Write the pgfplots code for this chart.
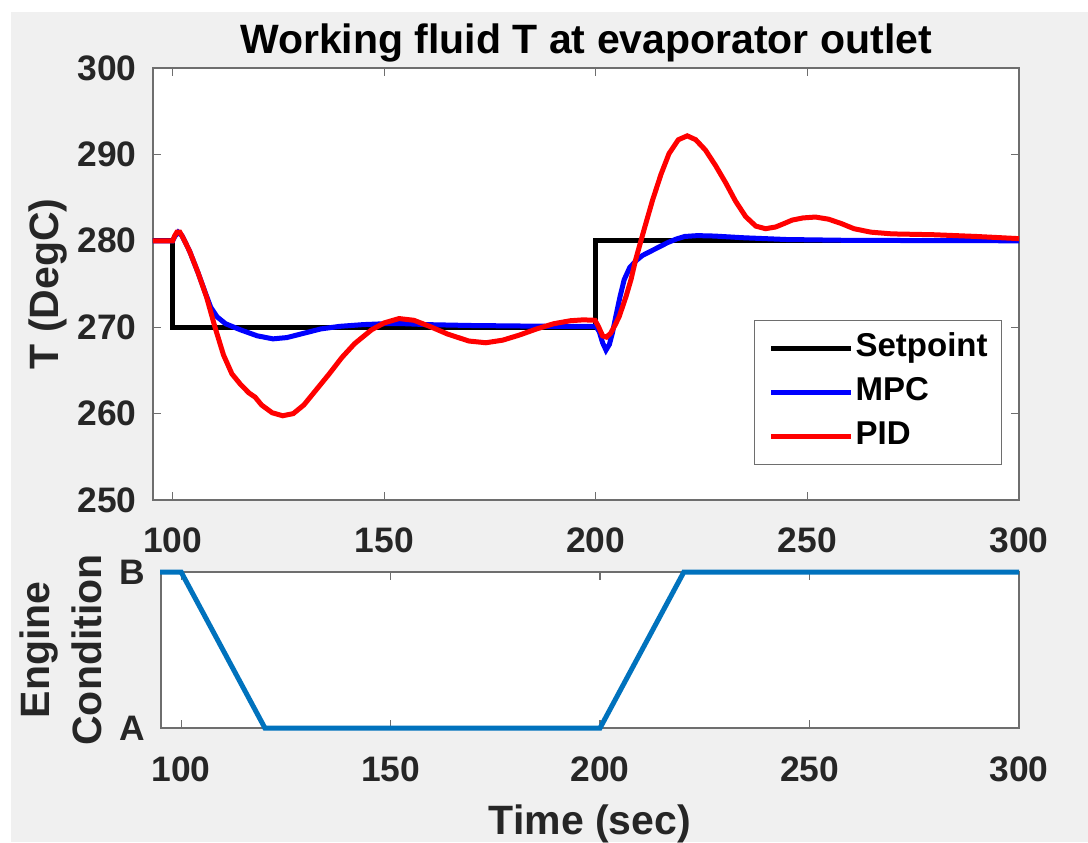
\documentclass[border=0pt]{standalone}
\usepackage{fontspec}
\setmainfont{Liberation Sans}
\usepackage{pgfplots}
\pgfplotsset{compat=1.18}
\definecolor{bg}{RGB}{240,240,240}
\definecolor{axgray}{RGB}{110,110,110}
\definecolor{txt}{RGB}{38,38,38}
\definecolor{mblue}{RGB}{0,114,189}
\newcommand{\tickfont}{\bfseries\fontsize{17.7}{20}\selectfont}
\newcommand{\labfont}{\bfseries\fontsize{20.5}{26}\selectfont}
\newcommand{\legfont}{\bfseries\fontsize{16.5}{19}\selectfont}

\pgfplotstableread{
x y
95 280
100 280
100 270
200 270
200 280
300 280
}\setpoint

\pgfplotstableread{
x y
95 280
100 280
100.5 280.5
101.3 281.0
102.2 280.6
103 279.8
104 278.8
106 276.3
108 273.6
109 272.3
110.5 271.2
112.5 270.4
116 269.7
120 269.0
123.7 268.65
127 268.8
131 269.3
135 269.8
139.5 270.1
145 270.3
150 270.4
155 270.4
160 270.3
170 270.2
180 270.15
190 270.1
200 270.1
200.8 269.5
201.6 268.2
202.4 267.35
203.2 268.0
203.9 269.3
204.7 271.2
205.7 273.5
206.7 275.5
208 276.9
209.5 277.7
211 278.3
213 278.8
215 279.3
217 279.8
219 280.2
221 280.5
224 280.6
228 280.55
235 280.35
245 280.15
260 280.05
300 280.0
}\mpc

\pgfplotstableread{
x y
95 280
100 280
100.5 280.6
101 281.0
101.7 281.0
102.5 280.3
104 278.8
106 276.3
108 273.5
110 270.0
112 266.8
114 264.6
116 263.4
118 262.4
119.5 261.9
121 261.0
123.5 260.1
126 259.75
128.5 260.0
131 261.0
134 262.8
137 264.6
140 266.5
143 268.1
147 269.7
150 270.5
153.5 271.0
157 270.8
160.7 270.1
165 269.2
170 268.4
174 268.2
178 268.5
182 269.1
186 269.8
190 270.4
194 270.75
197 270.85
199.8 270.8
200.6 270.1
201.6 269.0
202.5 268.85
203.5 269.3
204.5 270.2
205.5 271.2
207.1 273.5
208.3 275.5
209.4 277.8
211.4 281.3
213.4 284.7
215.4 287.7
217.3 290.1
219.5 291.7
221.6 292.15
223.6 291.7
225.9 290.5
228.3 288.7
230.7 286.7
233 284.6
235.4 282.8
237.8 281.7
240.1 281.4
242.5 281.6
244.5 282.0
246.4 282.4
249 282.65
251.9 282.75
255 282.5
258 282.0
261 281.4
265 281.0
270 280.8
280 280.7
290 280.5
300 280.25
}\pid

\pgfplotstableread{
x y
95 1
100 1
120 0
200 0
220 1
300 1
}\engine

\begin{document}
\begin{tikzpicture}
\path[use as bounding box] (0,0) rectangle (544pt,421pt);
\fill[white] (0,0) rectangle (544pt,421pt);
\fill[bg] (5.5pt,0pt) rectangle (544pt,415pt);

\pgfplotsset{mystyle/.style={
  scale only axis,
  axis background/.style={fill=white},
  axis line style={draw=axgray, line width=0.6pt},
  every tick/.style={draw=axgray, line width=0.6pt},
  major tick length=4pt,
  tick align=inside,
  tick pos=both,
  ticklabel style={font=\tickfont, text=txt},
  /pgf/number format/assume math mode=true,
  /pgf/number format/1000 sep={},
  xticklabel style={anchor=base, inner sep=0pt, yshift=-26.5pt},
  yticklabel style={anchor=east, inner sep=0pt, xshift=-8pt},
  label style={font=\labfont, text=txt},
}}

\begin{axis}[mystyle,
  at={(76.5pt,171pt)}, anchor=south west,
  width=433pt, height=216pt,
  xmin=95.35, xmax=300, ymin=250, ymax=300,
  xtick={100,150,200,250,300},
  ytick={250,260,270,280,290,300},
  title={Working fluid T at evaporator outlet},
  title style={at={(axis description cs:0.5,1)}, anchor=base, yshift=1.2pt, font=\labfont, text=black},
  ylabel={T (DegC)},
  ylabel style={at={(axis description cs:-0.1212,0.5)}, anchor=center},
  legend style={at={(axis description cs:0.694,0.4167)}, anchor=north west,
    draw=axgray, line width=0.6pt, fill=white, font=\legfont, text=black,
    inner xsep=7pt, inner ysep=6pt, row sep=6pt, column sep=1pt,
    nodes={inner sep=0pt, text height=12pt, text depth=4pt},
    cells={anchor=west}},
  legend image code/.code={\draw[#1] (0pt,0pt) -- (40pt,0pt);},
]
\addplot[black, line width=2.5pt] table[x=x,y=y] {\setpoint};
\addlegendentry{Setpoint}
\addplot[blue, line width=2.5pt] table[x=x,y=y] {\mpc};
\addlegendentry{MPC}
\addplot[red, line width=2.5pt] table[x=x,y=y] {\pid};
\addlegendentry{PID}
\end{axis}

\begin{axis}[mystyle,
  at={(80.5pt,57pt)}, anchor=south west,
  width=429pt, height=78pt,
  xmin=95.2, xmax=300, ymin=0, ymax=1,
  xtick={100,150,200,250,300},
  ytick={0,1}, yticklabels={A,B},
  clip=false,
  xlabel={Time (sec)},
  xlabel style={at={(axis description cs:0.5,0)}, anchor=base, yshift=-53pt},
  ylabel={Engine\\Condition},
  ylabel style={at={(axis description cs:-0.1166,0.5)}, anchor=center, align=center},
]
\addplot[mblue, line width=2.5pt] table[x=x,y=y] {\engine};
\end{axis}
\end{tikzpicture}
\end{document}
